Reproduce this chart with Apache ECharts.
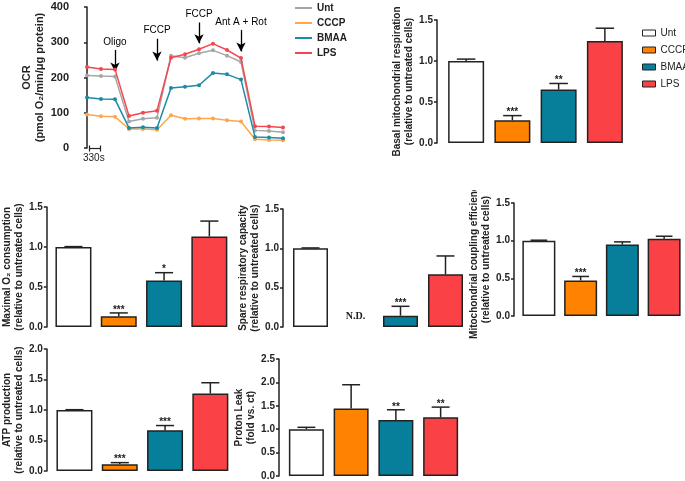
<!DOCTYPE html>
<html><head><meta charset="utf-8">
<script src="https://cdn.jsdelivr.net/npm/echarts@6/dist/echarts.min.js"></script>
<style>html,body{margin:0;padding:0;background:#fff}#c{width:685px;height:481px}</style>
</head><body><div id="c"></div>
<script>
// ---------- DATA ----------
const groups = ['Unt', 'CCCP', 'BMAA', 'LPS'];

// OCR time course (15 measurements)
const ocrUnt  = [206, 204, 203, 75, 83, 86, 262, 256, 269, 277, 262, 244, 50, 48, 45];
const ocrCCCP = [95, 90, 89, 54, 54, 52, 93, 83, 84, 84, 79, 75, 25, 23, 22];
const ocrBMAA = [143, 139, 138, 57, 59, 57, 170, 174, 178, 213, 209, 194, 31, 30, 28];
const ocrLPS  = [230, 224, 223, 91, 100, 106, 256, 266, 280, 296, 278, 255, 62, 61, 58];
const ocrTicks = [0, 100, 200, 300, 400];

// injections (arrow annotations)
const injections    = ['Oligo', 'FCCP', 'FCCP', 'Ant A + Rot'];
const injectionIdx  = [2, 5, 8, 11];
const injectionFrom = [278, 310, 356, 335];
const injectionTo   = [217, 248, 297, 274];

// bar panels
const basal    = [1.00, 0.277, 0.652, 1.243];
const basalErr = [0.023, 0.057, 0.074, 0.157];
const basalSig = ['', '***', '**', ''];

const maximal    = [1.00, 0.134, 0.582, 1.131];
const maximalErr = [0.005, 0.042, 0.097, 0.193];
const maximalSig = ['', '***', '*', ''];

const spare    = [1.00, null, 0.144, 0.669];
const spareErr = [0.005, 0, 0.119, 0.234];
const spareSig = ['', 'N.D.', '***', ''];

const coupling    = [1.00, 0.472, 0.948, 1.024];
const couplingErr = [0.006, 0.053, 0.036, 0.035];
const couplingSig = ['', '***', '', ''];

const atp    = [1.00, 0.110, 0.668, 1.271];
const atpErr = [0.005, 0.027, 0.077, 0.176];
const atpSig = ['', '***', '***', ''];

const proton    = [1.00, 1.444, 1.197, 1.254];
const protonErr = [0.04, 0.506, 0.218, 0.218];
const protonSig = ['', '', '**', '**'];

// ---------- STYLE ----------
const lineColors = ['#a6a6a6', '#ffa64d', '#1e8aa6', '#f4474f'];
const barColors  = ['#ffffff', '#ff8200', '#087f9a', '#fa4146'];
const ink = '#222';
const FONT = 'Liberation Sans, Arial, sans-serif';

const panels = [
  { vals: basal, err: basalErr, sig: basalSig, max: 1.5, interval: 0.5,
    name: 'Basal mitochondrial respiration\n(relative to untreated cells)',
    left: 443, top: 20, width: 185, height: 123, offset: 6, gap: 19, barW: 36 },
  { vals: maximal, err: maximalErr, sig: maximalSig, max: 1.5, interval: 0.5,
    name: 'Maximal O\u2082 consumption\n(relative to untreated cells)',
    left: 49, top: 207, width: 183, height: 120, offset: 4, gap: 17, barW: 36 },
  { vals: spare, err: spareErr, sig: spareSig, max: 1.5, interval: 0.5,
    name: 'Spare respiratory capacity\n(relative to untreated cells)',
    left: 288, top: 209, width: 180, height: 118, offset: 5, gap: 16, barW: 35 },
  { vals: coupling, err: couplingErr, sig: couplingSig, max: 1.5, interval: 0.5,
    name: 'Mitochondrial coupling efficiency\n(relative to untreated cells)',
    left: 518, top: 203, width: 169, height: 113, offset: 4, gap: 14, barW: 33 },
  { vals: atp, err: atpErr, sig: atpSig, max: 2.0, interval: 0.5,
    name: 'ATP production\n(relative to untreated cells)',
    left: 48, top: 349, width: 185, height: 122, offset: 5, gap: 18, barW: 36 },
  { vals: proton, err: protonErr, sig: protonSig, max: 2.5, interval: 0.5,
    name: 'Proton Leak\n(fold vs. ct)',
    left: 284, top: 359, width: 179, height: 119, offset: 5, gap: 11, barW: 35 }
];

const grid = [{ left: 73, top: 7, width: 210, height: 141 }];
const xAxis = [{ type: 'value', gridIndex: 0, min: -1, max: 14, show: false }];
const yAxis = [{
  type: 'value', gridIndex: 0, min: ocrTicks[0], max: ocrTicks[ocrTicks.length - 1],
  interval: ocrTicks[1] - ocrTicks[0],
  axisLine: { show: true, lineStyle: { color: ink, width: 1.5 } },
  axisTick: { show: true, length: 3, lineStyle: { color: ink, width: 1.5 } },
  splitLine: { show: false },
  axisLabel: { fontSize: 11, fontWeight: 'bold', color: ink, margin: 4, fontFamily: FONT },
  name: 'OCR\n(pmol O\u2082/min/\u03bcg protein)', nameLocation: 'middle', nameRotate: 90, nameGap: 25,
  nameTextStyle: { fontSize: 11, fontWeight: 'bold', color: ink, lineHeight: 13, fontFamily: FONT }
}];

const series = [];
const ocrSets = [ocrUnt, ocrCCCP, ocrBMAA, ocrLPS];
ocrSets.forEach((arr, k) => {
  const s = {
    type: 'line', name: groups[k], xAxisIndex: 0, yAxisIndex: 0,
    data: arr.map((v, i) => [i, v]),
    symbol: 'circle', symbolSize: 4, silent: true,
    lineStyle: { color: lineColors[k], width: 1.5 },
    itemStyle: { color: lineColors[k] },
    z: 2 + k
  };
  if (k === 0) {
    s.markLine = {
      silent: true, animation: false,
      symbol: ['none', 'arrow'], symbolSize: [7, 9],
      lineStyle: { color: '#000', width: 1.3, type: 'solid' },
      label: { show: true, position: 'start', distance: 3, color: '#000', fontSize: 10, fontFamily: FONT,
               formatter: p => p.name },
      data: injections.map((n, j) => [
        { name: n, coord: [injectionIdx[j], injectionFrom[j]] },
        { coord: [injectionIdx[j], injectionTo[j]] }
      ])
    };
  }
  series.push(s);
});

panels.forEach((p, pi) => {
  const gi = pi + 1;
  grid.push({ left: p.left, top: p.top, width: p.width, height: p.height });
  xAxis.push({ type: 'category', gridIndex: gi, data: groups, show: false, boundaryGap: true });
  yAxis.push({
    type: 'value', gridIndex: gi, min: 0, max: p.max, interval: p.interval, offset: p.offset,
    axisLine: { show: true, lineStyle: { color: ink, width: 1.5 } },
    axisTick: { show: true, length: 3, lineStyle: { color: ink, width: 1.5 } },
    splitLine: { show: false },
    axisLabel: { fontSize: 10, fontWeight: 'bold', color: ink, margin: 4, fontFamily: FONT,
                 formatter: v => v.toFixed(1) },
    name: p.name, nameLocation: 'middle', nameRotate: 90, nameGap: p.gap,
    nameTextStyle: { fontSize: 10, fontWeight: 'bold', color: ink, lineHeight: 12, fontFamily: FONT }
  });
  series.push({
    type: 'bar', xAxisIndex: gi, yAxisIndex: gi, barWidth: p.barW, silent: true,
    data: p.vals.map((v, i) => v == null ? '-' : { value: v, itemStyle: { color: barColors[i] } }),
    itemStyle: { borderColor: ink, borderWidth: 1.5 }
  });
  series.push({
    type: 'custom', xAxisIndex: gi, yAxisIndex: gi, silent: true, z: 5,
    data: p.vals.map((v, i) => [i, v == null ? 0 : v, p.err[i]]),
    renderItem: (params, api) => {
      const i = params.dataIndex;
      const x = api.value(0), v = api.value(1), e = api.value(2);
      const sig = p.sig[i];
      const p0 = api.coord([x, v]);
      const p1 = api.coord([x, v + e]);
      const band = api.size([1, 0])[0];
      const cw = band * 0.2;
      const children = [];
      if (p.vals[i] != null) {
        children.push({ type: 'line', shape: { x1: p0[0], y1: p0[1], x2: p1[0], y2: p1[1] },
                        style: { stroke: ink, lineWidth: 1.5 } });
        children.push({ type: 'line', shape: { x1: p1[0] - cw, y1: p1[1], x2: p1[0] + cw, y2: p1[1] },
                        style: { stroke: ink, lineWidth: 1.5 } });
        if (sig) children.push({ type: 'text', style: { text: sig, x: p1[0], y: p1[1] + 2,
                        align: 'center', verticalAlign: 'bottom', fill: ink,
                        font: 'bold 10px ' + FONT } });
      } else if (sig) {
        children.push({ type: 'text', style: { text: sig, x: p0[0], y: p0[1] - 11,
                        align: 'center', verticalAlign: 'middle', fill: ink,
                        font: 'bold 10px "Liberation Serif", "Times New Roman", serif' } });
      }
      return { type: 'group', children };
    }
  });
});

const option = {
  animation: false,
  backgroundColor: '#fff',
  textStyle: { fontFamily: FONT },
  grid, xAxis, yAxis, series,
  legend: [
    { orient: 'vertical', left: 290, top: -3, itemGap: 3, itemWidth: 17, itemHeight: 2, icon: 'rect',
      selectedMode: false, data: groups,
      textStyle: { fontSize: 10, fontWeight: 'bold', color: ink, lineHeight: 12, fontFamily: FONT } },
    { orient: 'vertical', left: 637, top: 22, itemGap: 5, itemWidth: 13, itemHeight: 6, icon: 'rect',
      selectedMode: false,
      data: groups.map((g, i) => ({ name: g, itemStyle: { color: barColors[i], borderColor: ink, borderWidth: 1 } })),
      textStyle: { fontSize: 10, color: ink, lineHeight: 12, fontFamily: FONT } }
  ],
  graphic: [
    { type: 'group', left: 87, top: 143, silent: true, children: [
      { type: 'line', shape: { x1: 0, y1: 3, x2: 11, y2: 3 }, style: { stroke: ink, lineWidth: 1.2 } },
      { type: 'line', shape: { x1: 0, y1: 0, x2: 0, y2: 6 }, style: { stroke: ink, lineWidth: 1.2 } },
      { type: 'line', shape: { x1: 11, y1: 0, x2: 11, y2: 6 }, style: { stroke: ink, lineWidth: 1.2 } }
    ]},
    { type: 'text', left: 83, top: 153, silent: true,
      style: { text: '330s', fill: ink, font: '10px ' + FONT } },
    // sub-figure crop edge hiding the top of the coupling-efficiency title, as in the source image
    { type: 'rect', left: 468, top: 170, z: 100, silent: true,
      shape: { width: 40, height: 20 }, style: { fill: '#fff' } }
  ]
};

const chart = echarts.init(document.getElementById('c'), null, { renderer: 'canvas' });
chart.setOption(option);
</script>
</body></html>
